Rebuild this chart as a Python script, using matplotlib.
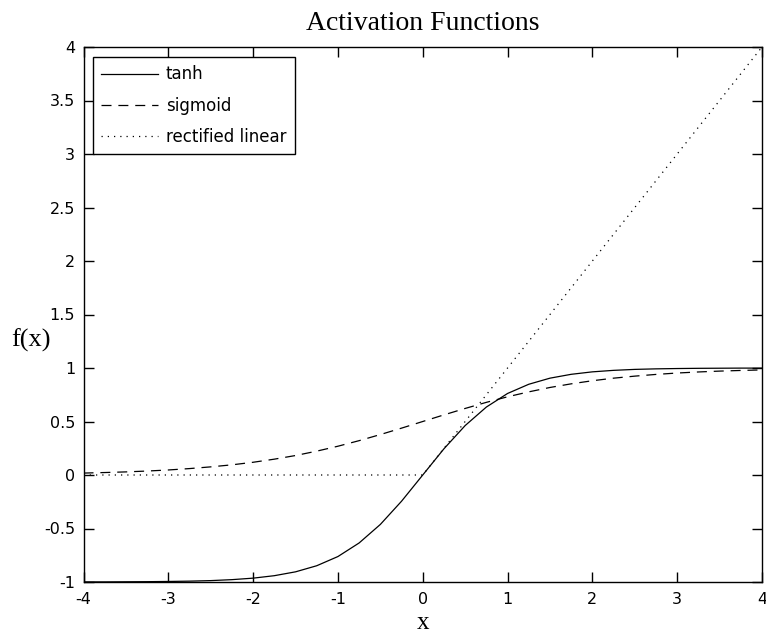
import matplotlib
matplotlib.use("Agg")
import matplotlib.pyplot as plt

# ---- data ----
x_vals = [-4.0, -3.75, -3.5, -3.25, -3.0, -2.75, -2.5, -2.25, -2.0, -1.75, -1.5, -1.25,
          -1.0, -0.75, -0.5, -0.25, 0.0, 0.25, 0.5, 0.75, 1.0, 1.25, 1.5, 1.75,
          2.0, 2.25, 2.5, 2.75, 3.0, 3.25, 3.5, 3.75, 4.0]
tanh_vals = [-0.999, -0.999, -0.998, -0.997, -0.995, -0.992, -0.987, -0.978, -0.964, -0.941,
             -0.905, -0.848, -0.762, -0.635, -0.462, -0.245, 0.0, 0.245, 0.462, 0.635,
             0.762, 0.848, 0.905, 0.941, 0.964, 0.978, 0.987, 0.992, 0.995, 0.997,
             0.998, 0.999, 0.999]
sigmoid_vals = [0.018, 0.023, 0.029, 0.037, 0.047, 0.060, 0.076, 0.095, 0.119, 0.148,
                0.182, 0.223, 0.269, 0.321, 0.378, 0.438, 0.500, 0.562, 0.622, 0.679,
                0.731, 0.777, 0.818, 0.852, 0.881, 0.905, 0.924, 0.940, 0.953, 0.963,
                0.971, 0.977, 0.982]
relu_x = [-4.0, 0.0, 4.0]
relu_vals = [0.0, 0.0, 4.0]

labels = ["tanh", "sigmoid", "rectified linear"]
x_ticks = [-4, -3, -2, -1, 0, 1, 2, 3, 4]
y_ticks = [-1, -0.5, 0, 0.5, 1, 1.5, 2, 2.5, 3, 3.5, 4]
y_tick_labels = ["-1", "-0.5", "0", "0.5", "1", "1.5", "2", "2.5", "3", "3.5", "4"]
x_tick_labels = ["-4", "-3", "-2", "-1", "0", "1", "2", "3", "4"]

plt.rcParams['axes.unicode_minus'] = False

W, H = 766, 635
fig = plt.figure(figsize=(W / 100, H / 100), dpi=100)
left, right, top, bottom = 83.5, 762, 47, 582
ax = fig.add_axes([left / W, (H - bottom) / H, (right - left) / W, (bottom - top) / H])

ax.plot(x_vals, tanh_vals, color='black', lw=0.9, linestyle='-', label=labels[0])
ax.plot(x_vals, sigmoid_vals, color='black', lw=0.9, linestyle=(0, (8, 5.5)), label=labels[1])
ax.plot(relu_x, relu_vals, color='black', lw=0.9, linestyle=(0, (1, 4)), label=labels[2])

ax.set_xlim(-4, 4)
ax.set_ylim(-1, 4)
ax.set_xticks(x_ticks)
ax.set_xticklabels(x_tick_labels)
ax.set_yticks(y_ticks)
ax.set_yticklabels(y_tick_labels)

ax.tick_params(axis='both', direction='in', length=7, width=1.0, top=True, right=True,
               labelsize=11.5, colors='black')
ax.tick_params(axis='x', pad=7)
ax.tick_params(axis='y', pad=6)
for lab in ax.get_xticklabels() + ax.get_yticklabels():
    lab.set_family('DejaVu Sans')
for sp in ax.spines.values():
    sp.set_linewidth(1.0)
    sp.set_color('black')

serif = ['Liberation Serif', 'DejaVu Serif']
ax.set_title("Activation Functions", family=serif, fontsize=20, pad=12)
fig.text(423 / W, 6 / H, "x", family=serif, fontsize=18, ha='center', va='baseline')
fig.text(31 / W, (H - 347) / H, "f(x)", family=serif, fontsize=19, ha='center', va='baseline')

leg = ax.legend(loc='upper left', bbox_to_anchor=((93 - left) / (right - left), (bottom - 57) / (bottom - top)),
                borderaxespad=0, fancybox=False, frameon=True, edgecolor='black',
                prop={'family': 'DejaVu Sans', 'size': 12}, handlelength=3.4,
                handletextpad=0.48, labelspacing=0.8, borderpad=0.5)
leg.get_frame().set_linewidth(1.0)
leg.get_frame().set_alpha(1.0)

fig.savefig("out.png", dpi=100, facecolor='white')
